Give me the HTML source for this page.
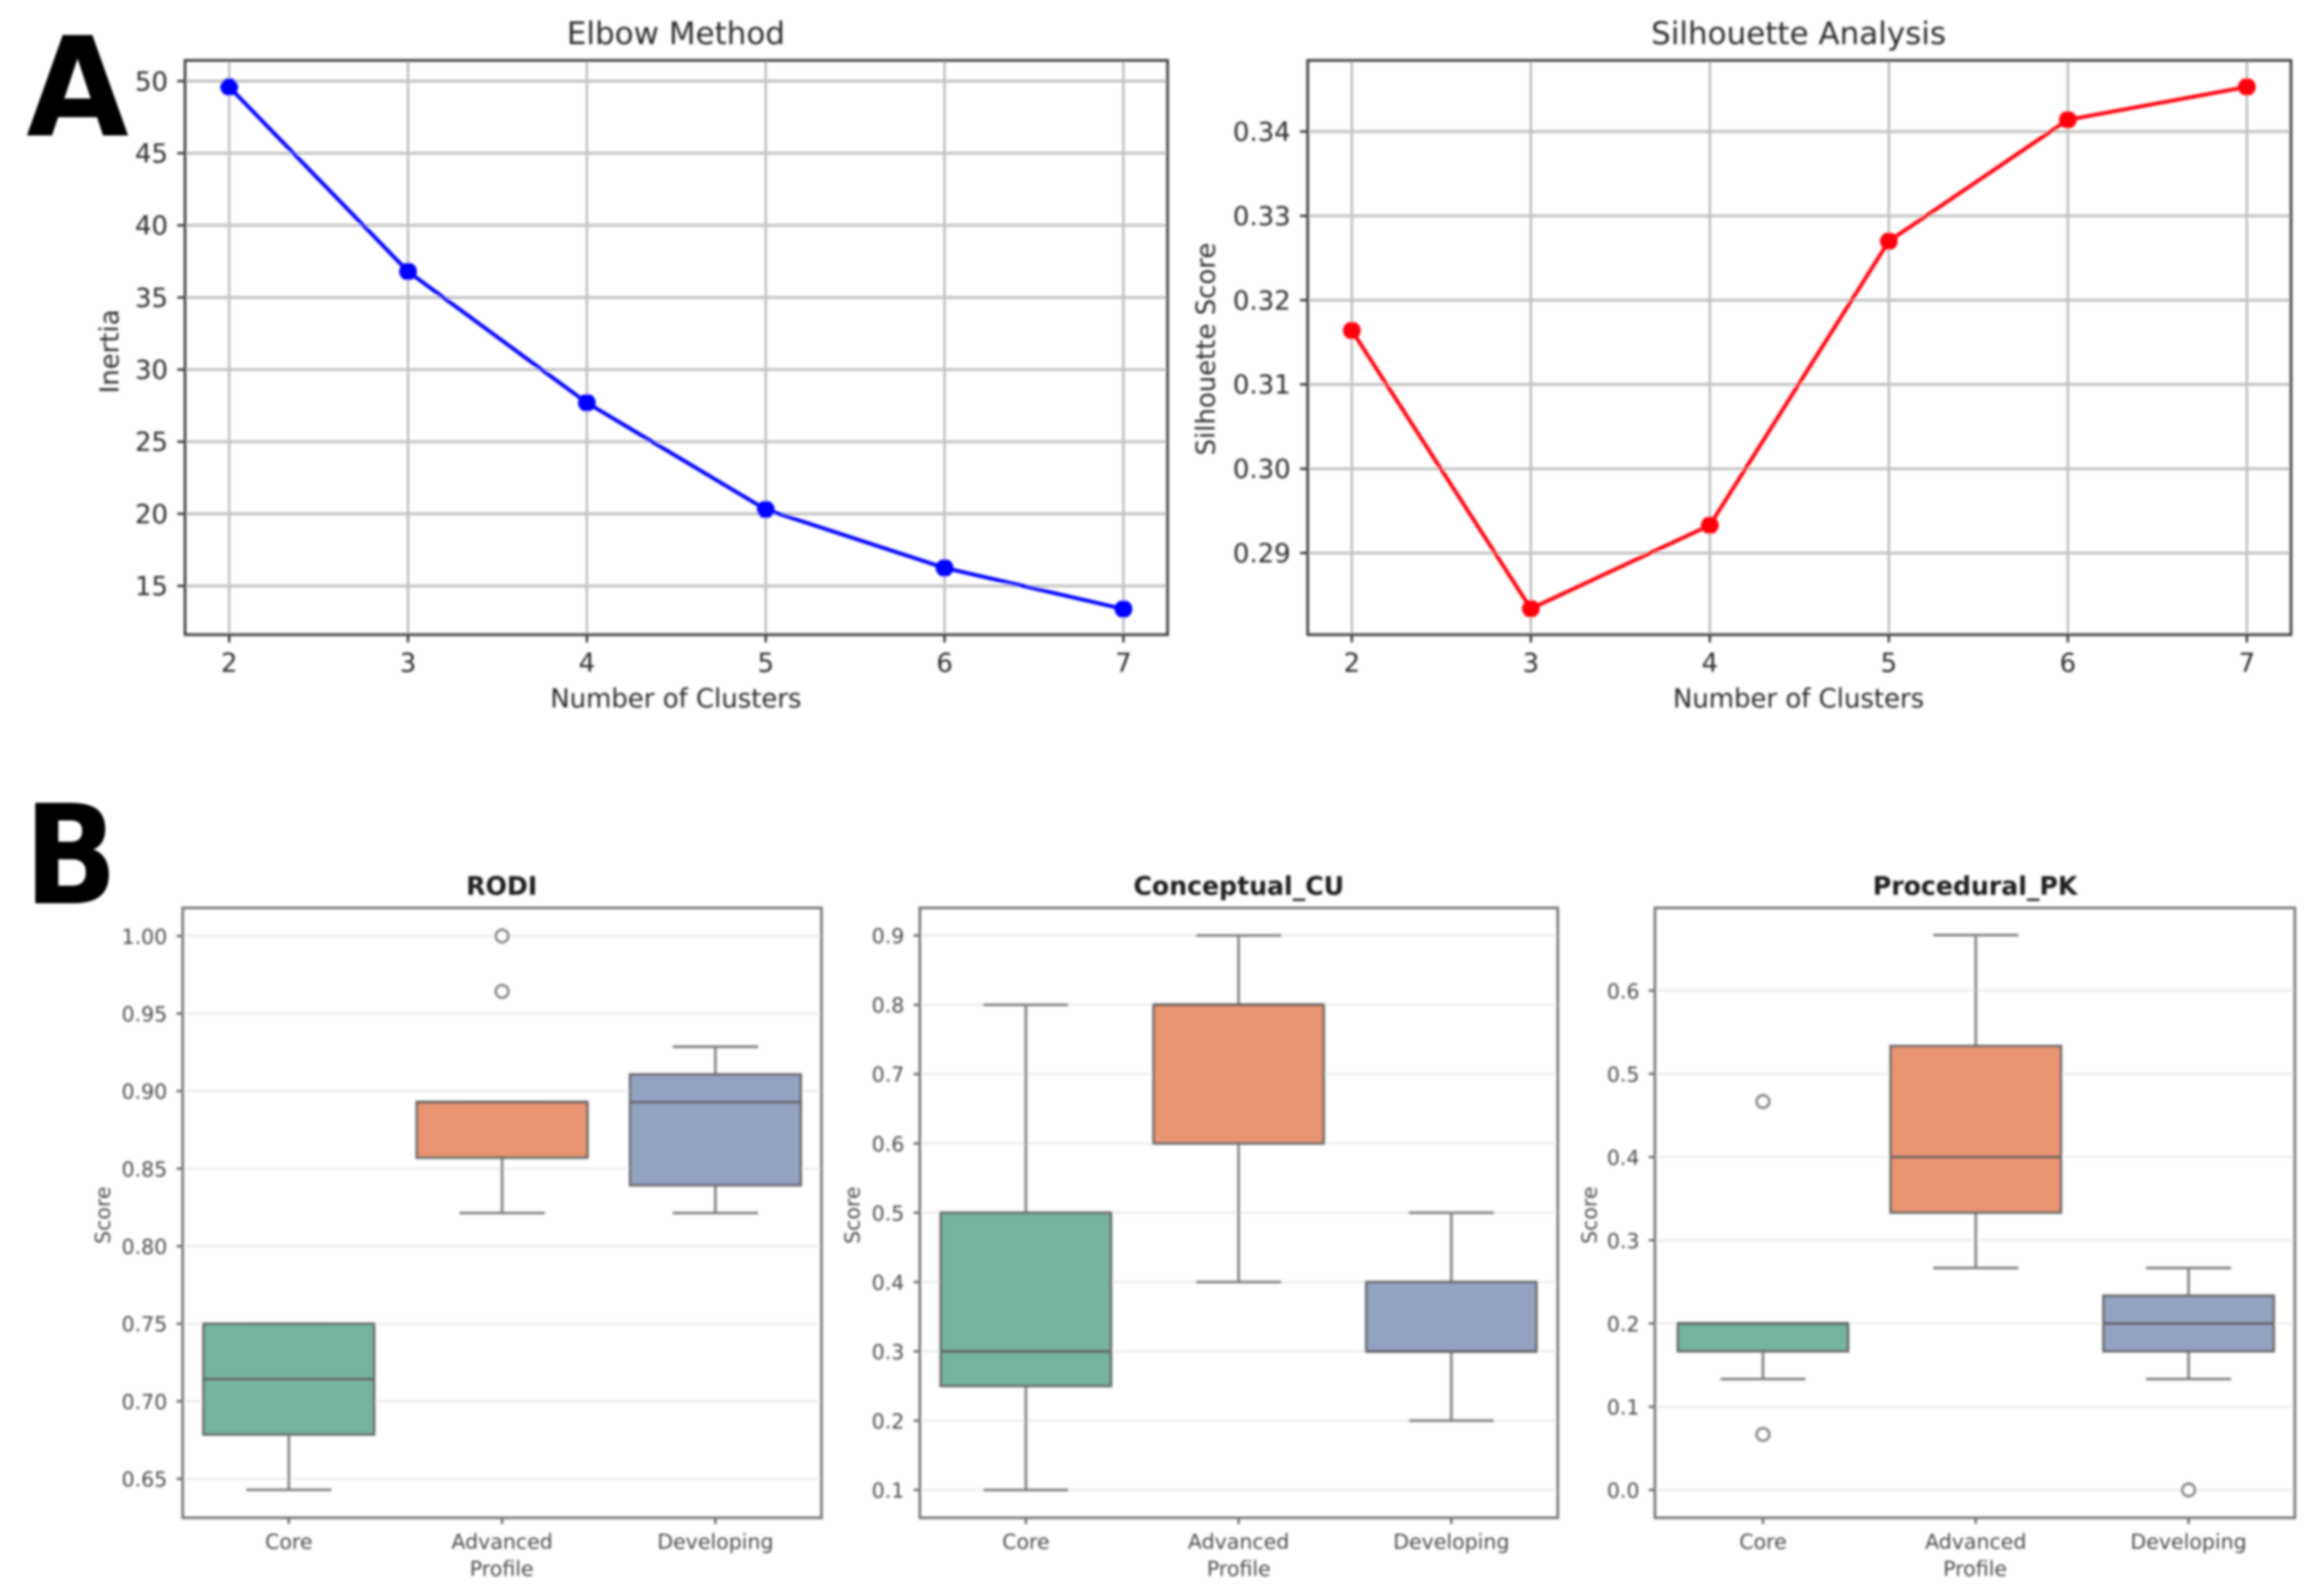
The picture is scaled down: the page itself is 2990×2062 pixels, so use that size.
<!DOCTYPE html>
<html>
<head>
<meta charset="utf-8">
<title>Cluster selection and profile scores</title>
<style>
html,body{margin:0;padding:0;background:#fff;width:2990px;height:2062px;overflow:hidden}
svg{display:block;position:absolute;left:0;top:0}
text{font-family:"DejaVu Sans","Liberation Sans",sans-serif}
.t-a{font-size:40px;fill:#2a2a2a;text-anchor:middle}
.l-a{font-size:33.5px;fill:#2a2a2a;text-anchor:middle}
.t-b{font-size:32.5px;font-weight:bold;fill:#1a1a1a;text-anchor:middle}
.l-b{font-size:26.5px;fill:#4a4a4a;text-anchor:middle}
.letter{font-size:178px;font-weight:bold;fill:#000}
</style>
</head>
<body>
<svg id="fig" xmlns="http://www.w3.org/2000/svg" width="2990" height="2062" viewBox="0 0 2990 2062">
  <defs>
    <filter id="soft" x="0" y="0" width="2990" height="2062" filterUnits="userSpaceOnUse" primitiveUnits="userSpaceOnUse">
      <feGaussianBlur stdDeviation="1.7"/>
    </filter>
  </defs>
  <rect x="0" y="0" width="2990" height="2062" fill="#fff"/>
  <g id="root" filter="url(#soft)">
    <g id="layer"></g>
    <text class="letter" transform="translate(34,175) scale(0.96,1)">A</text>
    <text class="letter" transform="translate(31,1167) scale(0.89,1)">B</text>

    <text class="t-a" x="873" y="57">Elbow Method</text>
    <text class="l-a" x="873" y="914">Number of Clusters</text>
    <text class="l-a" transform="translate(153,454) rotate(-90)">Inertia</text>

    <text class="t-a" x="2323" y="57">Silhouette Analysis</text>
    <text class="l-a" x="2323" y="914">Number of Clusters</text>
    <text class="l-a" transform="translate(1569,451) rotate(-90)">Silhouette Score</text>

    <text class="t-b" x="648" y="1156">RODI</text>
    <text class="l-b" x="648" y="2036">Profile</text>
    <text class="l-b" transform="translate(142,1570) rotate(-90)">Score</text>

    <text class="t-b" x="1600" y="1156">Conceptual_CU</text>
    <text class="l-b" x="1600" y="2036">Profile</text>
    <text class="l-b" transform="translate(1110,1570) rotate(-90)">Score</text>

    <text class="t-b" x="2551" y="1156">Procedural_PK</text>
    <text class="l-b" x="2551" y="2036">Profile</text>
    <text class="l-b" transform="translate(2062,1570) rotate(-90)">Score</text>
  </g>
</svg>
<script>
// ---- Panel A data ----
const clusterCounts = [2, 3, 4, 5, 6, 7];
const elbowInertia = [49.6, 36.8, 27.7, 20.3, 16.25, 13.4];
const elbowYTicks = ['15', '20', '25', '30', '35', '40', '45', '50'];
const silhouetteScores = [0.3164, 0.2834, 0.2933, 0.327, 0.3414, 0.3453];
const silhouetteYTicks = ['0.29', '0.30', '0.31', '0.32', '0.33', '0.34'];

// ---- Panel B data ----
const profiles = ['Core', 'Advanced', 'Developing'];

const rodiYTicks = ['0.65', '0.70', '0.75', '0.80', '0.85', '0.90', '0.95', '1.00'];
const rodiQ1 = [0.6786, 0.8571, 0.8393];
const rodiMedian = [0.7143, 0.8929, 0.8929];
const rodiQ3 = [0.75, 0.8929, 0.9107];
const rodiWhiskerLow = [0.6429, 0.8214, 0.8214];
const rodiWhiskerHigh = [0.75, 0.8929, 0.9286];
const rodiOutliers = [[], [1.0, 0.9643], []];

const conceptualYTicks = ['0.1', '0.2', '0.3', '0.4', '0.5', '0.6', '0.7', '0.8', '0.9'];
const conceptualQ1 = [0.25, 0.6, 0.3];
const conceptualMedian = [0.3, 0.8, 0.3];
const conceptualQ3 = [0.5, 0.8, 0.4];
const conceptualWhiskerLow = [0.1, 0.4, 0.2];
const conceptualWhiskerHigh = [0.8, 0.9, 0.5];
const conceptualOutliers = [[], [], []];

const proceduralYTicks = ['0.0', '0.1', '0.2', '0.3', '0.4', '0.5', '0.6'];
const proceduralQ1 = [0.1667, 0.3333, 0.1667];
const proceduralMedian = [0.2, 0.4, 0.2];
const proceduralQ3 = [0.2, 0.5333, 0.2333];
const proceduralWhiskerLow = [0.1333, 0.2667, 0.1333];
const proceduralWhiskerHigh = [0.2, 0.6667, 0.2667];
const proceduralOutliers = [[0.4667, 0.0667], [], [0]];

const boxColors = ['#74b49f', '#e99572', '#95a3c3'];

// ---- helpers ----
const NS = 'http://www.w3.org/2000/svg';
const layer = document.getElementById('layer');

function shape(tag, parent, attrs) {
  const el = document.createElementNS(NS, tag);
  for (const k in attrs) el.setAttribute(k, attrs[k]);
  parent.appendChild(el);
  return el;
}
function linearScale(v0, p0, v1, p1) {
  return function (v) { return p0 + (v - v0) * (p1 - p0) / (v1 - v0); };
}
function makeGroup(name) {
  const g = shape('g', layer, {});
  
  
  return g;
}
function addGridLine(parent, name, x1, y1, x2, y2, color, width) {
  const el = shape('line', parent, { x1: x1, y1: y1, x2: x2, y2: y2, stroke: color, 'stroke-width': width });
  
  
}
function addTick(parent, name, x1, y1, x2, y2, color) {
  const el = shape('line', parent, { x1: x1, y1: y1, x2: x2, y2: y2, stroke: color, 'stroke-width': 3 });
  
  
}
function addLabel(parent, name, str, x, y, size, color, anchor) {
  const el = shape('text', parent, { x: x, y: y, 'font-size': size, fill: color, 'text-anchor': anchor });
  el.textContent = str;
  
  
}
function addFrame(parent, name, box, color) {
  const el = shape('rect', parent, { x: box.l, y: box.t, width: box.r - box.l, height: box.b - box.t, fill: 'none', stroke: color, 'stroke-width': 3.4 });
  
  
}

// ---- line charts ----
function drawLineChart(prefix, box, xs, ys, xVals, yVals, yTicks, color) {
  const g = makeGroup(prefix + '-chart');
  xVals.forEach(function (v) {
    addGridLine(g, prefix + '-vertical-gridline', xs(v), box.t, xs(v), box.b, '#b4b4b4', 2.8);
    addTick(g, prefix + '-x-tick', xs(v), box.b, xs(v), box.b + 10, '#333');
    addLabel(g, prefix + '-x-tick-label', String(v), xs(v), box.b + 48, 33.5, '#2a2a2a', 'middle');
  });
  yTicks.forEach(function (t) {
    const y = ys(parseFloat(t));
    addGridLine(g, prefix + '-horizontal-gridline', box.l, y, box.r, y, '#c2c2c2', 3.8);
    addTick(g, prefix + '-y-tick', box.l - 10, y, box.l, y, '#333');
    addLabel(g, prefix + '-y-tick-label', t, box.l - 22, y + 12, 33.5, '#2a2a2a', 'end');
  });
  addFrame(g, prefix + '-plot-frame', box, '#3a3a3a');
  const pts = xVals.map(function (v, i) { return xs(v) + ',' + ys(yVals[i]); }).join(' ');
  const line = shape('polyline', g, { points: pts, fill: 'none', stroke: color, 'stroke-width': 5, 'stroke-linejoin': 'round' });
  
  
  xVals.forEach(function (v, i) {
    const dot = shape('circle', g, { cx: xs(v), cy: ys(yVals[i]), r: 11.5, fill: color });
    
    
  });
}

const elbowBox = { l: 239, r: 1508, t: 78, b: 820 };
const silhouetteBox = { l: 1689, r: 2959, t: 78, b: 820 };

drawLineChart('elbow', elbowBox,
  linearScale(2, 296, 7, 1451), linearScale(50, 104.8, 15, 757),
  clusterCounts, elbowInertia, elbowYTicks, '#0505ff');
drawLineChart('silhouette', silhouetteBox,
  linearScale(2, 1746, 7, 2902), linearScale(0.34, 170, 0.29, 714.5),
  clusterCounts, silhouetteScores, silhouetteYTicks, '#ff0510');

// ---- box plots ----
function drawBoxChart(prefix, box, xs, ys, yTicks, q1, med, q3, lo, hi, outliers) {
  const g = makeGroup(prefix + '-chart');
  const step = xs(1) - xs(0);
  const boxW = step * 0.8;
  const capW = step * 0.4;
  yTicks.forEach(function (t) {
    const y = ys(parseFloat(t));
    addGridLine(g, prefix + '-horizontal-gridline', box.l, y, box.r, y, '#eeeeee', 3);
    addTick(g, prefix + '-y-tick', box.l - 8, y, box.l, y, '#666');
    addLabel(g, prefix + '-y-tick-label', t, box.l - 20, y + 10, 26.5, '#4a4a4a', 'end');
  });
  profiles.forEach(function (name, i) {
    const cx = xs(i);
    addTick(g, prefix + '-x-tick', cx, box.b, cx, box.b + 8, '#666');
    addLabel(g, prefix + '-x-tick-label', name, cx, box.b + 40, 26.5, '#4a4a4a', 'middle');

    const whiskerHigh = shape('line', g, { x1: cx, y1: ys(q3[i]), x2: cx, y2: ys(hi[i]), stroke: '#808080', 'stroke-width': 3.4 });
    
    
    const whiskerLow = shape('line', g, { x1: cx, y1: ys(q1[i]), x2: cx, y2: ys(lo[i]), stroke: '#808080', 'stroke-width': 3.4 });
    
    
    const capHigh = shape('line', g, { x1: cx - capW / 2, y1: ys(hi[i]), x2: cx + capW / 2, y2: ys(hi[i]), stroke: '#808080', 'stroke-width': 3.4 });
    
    
    const capLow = shape('line', g, { x1: cx - capW / 2, y1: ys(lo[i]), x2: cx + capW / 2, y2: ys(lo[i]), stroke: '#808080', 'stroke-width': 3.4 });
    
    

    const rect = shape('rect', g, { x: cx - boxW / 2, y: ys(q3[i]), width: boxW, height: ys(q1[i]) - ys(q3[i]), fill: boxColors[i], stroke: '#6a6a6a', 'stroke-width': 3.4 });
    
    
    const median = shape('line', g, { x1: cx - boxW / 2, y1: ys(med[i]), x2: cx + boxW / 2, y2: ys(med[i]), stroke: '#606060', 'stroke-width': 3.6 });
    
    

    outliers[i].forEach(function (v) {
      const o = shape('circle', g, { cx: cx, cy: ys(v), r: 8, fill: '#fff', stroke: '#7c7c7c', 'stroke-width': 3.4 });
      
      
    });
  });
  addFrame(g, prefix + '-plot-frame', box, '#747474');
}

drawBoxChart('rodi', { l: 236, r: 1061, t: 1173, b: 1961 },
  linearScale(0, 373, 2, 924), linearScale(1.0, 1209.3, 0.65, 1910.6),
  rodiYTicks, rodiQ1, rodiMedian, rodiQ3, rodiWhiskerLow, rodiWhiskerHigh, rodiOutliers);
drawBoxChart('conceptual', { l: 1188, r: 2012, t: 1173, b: 1961 },
  linearScale(0, 1325, 2, 1874.5), linearScale(0.9, 1208.6, 0.1, 1925),
  conceptualYTicks, conceptualQ1, conceptualMedian, conceptualQ3, conceptualWhiskerLow, conceptualWhiskerHigh, conceptualOutliers);
drawBoxChart('procedural', { l: 2137.5, r: 2964, t: 1173, b: 1961 },
  linearScale(0, 2277, 2, 2826.7), linearScale(0.6, 1279.8, 0, 1925),
  proceduralYTicks, proceduralQ1, proceduralMedian, proceduralQ3, proceduralWhiskerLow, proceduralWhiskerHigh, proceduralOutliers);
</script>
</body>
</html>
